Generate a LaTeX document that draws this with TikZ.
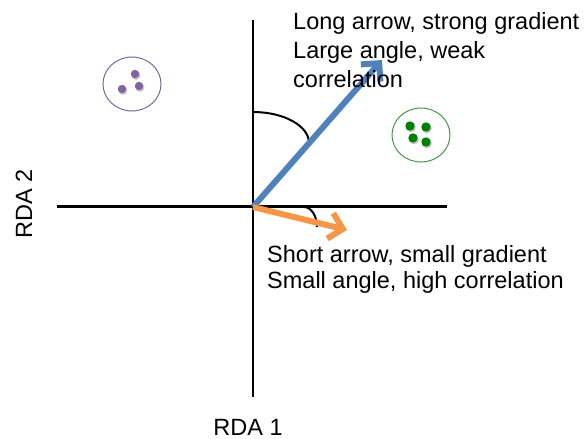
\documentclass[tikz,border=0pt]{standalone}
\usepackage{fontspec}
\setmainfont{Liberation Sans}
\usetikzlibrary{arrows.meta}
\definecolor{rdablue}{RGB}{79,129,189}
\definecolor{rdaorange}{RGB}{247,150,70}
\definecolor{rdapurple}{RGB}{128,100,162}
\definecolor{rdagreen}{RGB}{0,128,0}
\definecolor{rdagreenline}{RGB}{70,150,70}
\tikzset{
  axisline/.style={line width=2.6pt, black},
  anglearc/.style={line width=2pt, black},
  vecarrow/.style={line width=6pt, -{Straight Barb[length=13pt,width=26pt]}},
  lbl/.style={font=\fontsize{23.5}{28}\selectfont, inner sep=0pt, anchor=base west},
  axlbl/.style={font=\fontsize{23.5}{28}\selectfont, inner sep=0pt, anchor=base},
  grpline/.style={line width=1pt},
  dotshadow/.style={fill=black!22},
}
\begin{document}
\begin{tikzpicture}[x=1pt,y=-1pt]
\useasboundingbox (0,0) rectangle (587,439);
% axes
\coordinate (O) at (253,207);
\coordinate (vtop) at (253,20);
\coordinate (vbot) at (253,397);
\coordinate (hl) at (57,206.5);
\coordinate (hr) at (447,206.5);
\draw[axisline] (vtop) -- (vbot);
\draw[axisline] (hl) -- (hr);
% groups
\draw[grpline, draw=rdapurple] (132,84) ellipse[x radius=29, y radius=27];
\foreach \p in {(135,74),(139,86),(122,89)} {
  \fill[dotshadow] \p ++(1,1.5) circle[radius=4.4];
  \fill[rdapurple] \p circle[radius=4.2];
}
\draw[grpline, draw=rdagreenline] (421,135) ellipse[x radius=29, y radius=27];
\foreach \p in {(410,126),(426,127),(413,138),(426,142)} {
  \fill[dotshadow] \p ++(1,1.5) circle[radius=4.9];
  \fill[rdagreen] \p circle[radius=4.7];
}
% angle arcs
\draw[anglearc] (253,112) arc[start angle=-90, end angle=0, x radius=56, y radius=31];
\draw[anglearc] (304,207) arc[start angle=-90, end angle=0, x radius=13, y radius=20];
% arrows
\coordinate (btip) at (382,60);
\coordinate (otip) at (347,230);
\draw[vecarrow, rdablue] (O) -- (btip);
\draw[vecarrow, rdaorange] (O) -- (otip);
% labels
\node[lbl] (t1) at (293,30) {Long arrow, strong gradient};
\node[lbl] (t2) at (293,58.5) {Large angle, weak};
\node[lbl] (t3) at (293,87) {correlation};
\node[lbl] (s1) at (267,262) {Short arrow, small gradient};
\node[lbl] (s2) at (267,288.5) {Small angle, high correlation};
\node[axlbl, rotate=90] (r2) at (32,204) {RDA 2};
\node[axlbl] (r1) at (248,435) {RDA 1};
\end{tikzpicture}
\end{document}
